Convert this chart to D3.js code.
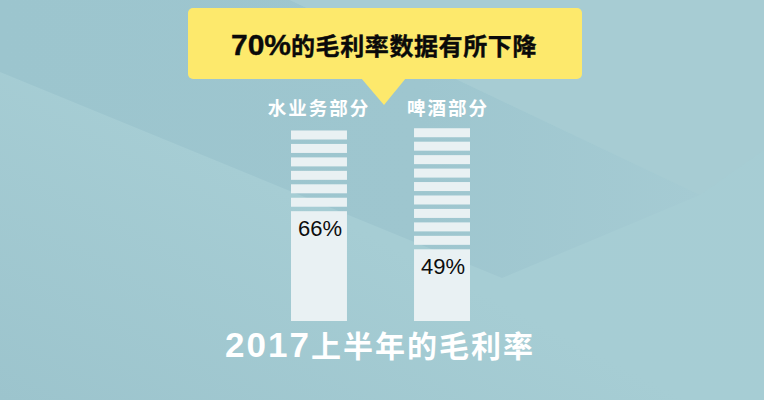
<!DOCTYPE html>
<html>
<head>
<meta charset="utf-8">
<script src="https://cdn.jsdelivr.net/npm/d3@7"></script>
<style>
  html, body { margin: 0; padding: 0; background: #a4cbd3; }
  svg { display: block; }
</style>
</head>
<body>
<div id="chart"></div>
<script>
(function () {
  const WIDTH = 764;
  const HEIGHT = 400;

  // data
  const categories = ["水业务部分", "啤酒部分"];
  const margins = [66, 49];           // 毛利率 %
  const valueLabels = ["66%", "49%"];
  const headline = ["70%", "的毛利率数据有所下降"];
  const footer = ["2017", "上半年的毛利率"];

  const svg = d3.select("#chart").append("svg")
    .attr("width", WIDTH)
    .attr("height", HEIGHT);

  // background, low-poly look
  const defs = svg.append("defs");
  const bg = defs.append("linearGradient").attr("id", "bg")
    .attr("x1", 0).attr("y1", 1).attr("x2", 1).attr("y2", 0);
  bg.append("stop").attr("offset", 0).attr("stop-color", "#9cc4cd");
  bg.append("stop").attr("offset", 0.45).attr("stop-color", "#a6cdd4");
  bg.append("stop").attr("offset", 1).attr("stop-color", "#a7cdd4");

  svg.append("rect").attr("width", WIDTH).attr("height", HEIGHT).attr("fill", "url(#bg)");

  // darker wedge above the diagonal, fading out to the right
  const dark = defs.append("linearGradient").attr("id", "dark")
    .attr("x1", 0).attr("y1", 0).attr("x2", 1).attr("y2", 0);
  dark.append("stop").attr("offset", 0).attr("stop-color", "#9cc5ce");
  dark.append("stop").attr("offset", 0.6).attr("stop-color", "#9ec6cf");
  dark.append("stop").attr("offset", 1).attr("stop-color", "#a5cbd3");

  svg.append("polygon")
    .attr("points", "0,0 290,0 700,195 502,278 0,72")
    .attr("fill", "url(#dark)");
  svg.append("polygon")
    .attr("points", "290,0 764,0 764,150 700,195")
    .attr("fill", "#a7ccd3");

  // scales
  const x = d3.scaleBand()
    .domain(categories)
    .range([291, 470])
    .paddingInner(0.545)
    .paddingOuter(0);

  const y = d3.scaleLinear()
    .domain([17, 100])
    .range([321, 135]);

  const barColor = "#e9f1f3";
  const stripeH = 9;
  const stripePitch = 13.45;
  const stripeTop = 126;

  const bars = svg.append("g").selectAll("g")
    .data(categories)
    .join("g");

  bars.append("rect")
    .attr("x", d => x(d))
    .attr("width", x.bandwidth())
    .attr("y", (d, i) => y(margins[i]))
    .attr("height", (d, i) => y(17) - y(margins[i]))
    .attr("fill", barColor);

  // stacked stripes above each bar
  bars.each(function (d, i) {
    const top = y(margins[i]);
    const n = Math.floor((top - stripeTop) / stripePitch);
    d3.select(this).selectAll("rect.stripe")
      .data(d3.range(n))
      .join("rect")
      .attr("class", "stripe")
      .attr("x", x(d))
      .attr("width", x.bandwidth())
      .attr("y", k => top - (k + 1) * stripePitch)
      .attr("height", stripeH)
      .attr("fill", barColor);
  });

  bars.append("text")
    .attr("x", d => x(d) + x.bandwidth() / 2 + 1)
    .attr("y", (d, i) => y(margins[i]) + 25)
    .attr("text-anchor", "middle")
    .attr("font-family", "'Liberation Sans', Arial, sans-serif")
    .attr("font-size", 22)
    .attr("fill", "#0d0d0d")
    .text((d, i) => valueLabels[i]);

  // category labels
  const labelShift = [0, 6];
  bars.append("text")
    .attr("x", (d, i) => x(d) + x.bandwidth() / 2 + labelShift[i])
    .attr("y", 115)
    .attr("text-anchor", "middle")
    .attr("font-family", "'Noto Sans CJK SC', sans-serif")
    .attr("font-weight", "bold")
    .attr("font-size", 18.5)
    .attr("letter-spacing", 2)
    .attr("fill", "#ffffff")
    .text(d => d);

  // yellow callout
  const callout = svg.append("g");
  callout.append("rect")
    .attr("x", 188).attr("y", 8)
    .attr("width", 394).attr("height", 71)
    .attr("rx", 5)
    .attr("fill", "#fde96c");
  callout.append("polygon")
    .attr("points", "361,78 406,78 384,105")
    .attr("fill", "#fde96c");

  const head = callout.append("text")
    .attr("x", 384).attr("y", 55)
    .attr("text-anchor", "middle")
    .attr("font-weight", "bold")
    .attr("fill", "#0a0a0a")
    .attr("stroke", "#0a0a0a")
    .attr("stroke-width", 0.4);
  head.append("tspan")
    .attr("font-family", "'Liberation Sans', Arial, sans-serif")
    .attr("font-size", 30)
    .text(headline[0]);
  head.append("tspan")
    .attr("font-family", "'Noto Sans CJK SC', sans-serif")
    .attr("font-size", 24)
    .attr("letter-spacing", 0.6)
    .text(headline[1]);

  // footer title
  const foot = svg.append("text")
    .attr("x", 380).attr("y", 357)
    .attr("text-anchor", "middle")
    .attr("font-weight", "bold")
    .attr("fill", "#ffffff");
  foot.append("tspan")
    .attr("font-family", "'Liberation Sans', Arial, sans-serif")
    .attr("font-size", 35)
    .attr("letter-spacing", 2)
    .text(footer[0]);
  foot.append("tspan")
    .attr("font-family", "'Noto Sans CJK SC', sans-serif")
    .attr("font-size", 30)
    .attr("letter-spacing", 2)
    .text(footer[1]);
})();
</script>
</body>
</html>
